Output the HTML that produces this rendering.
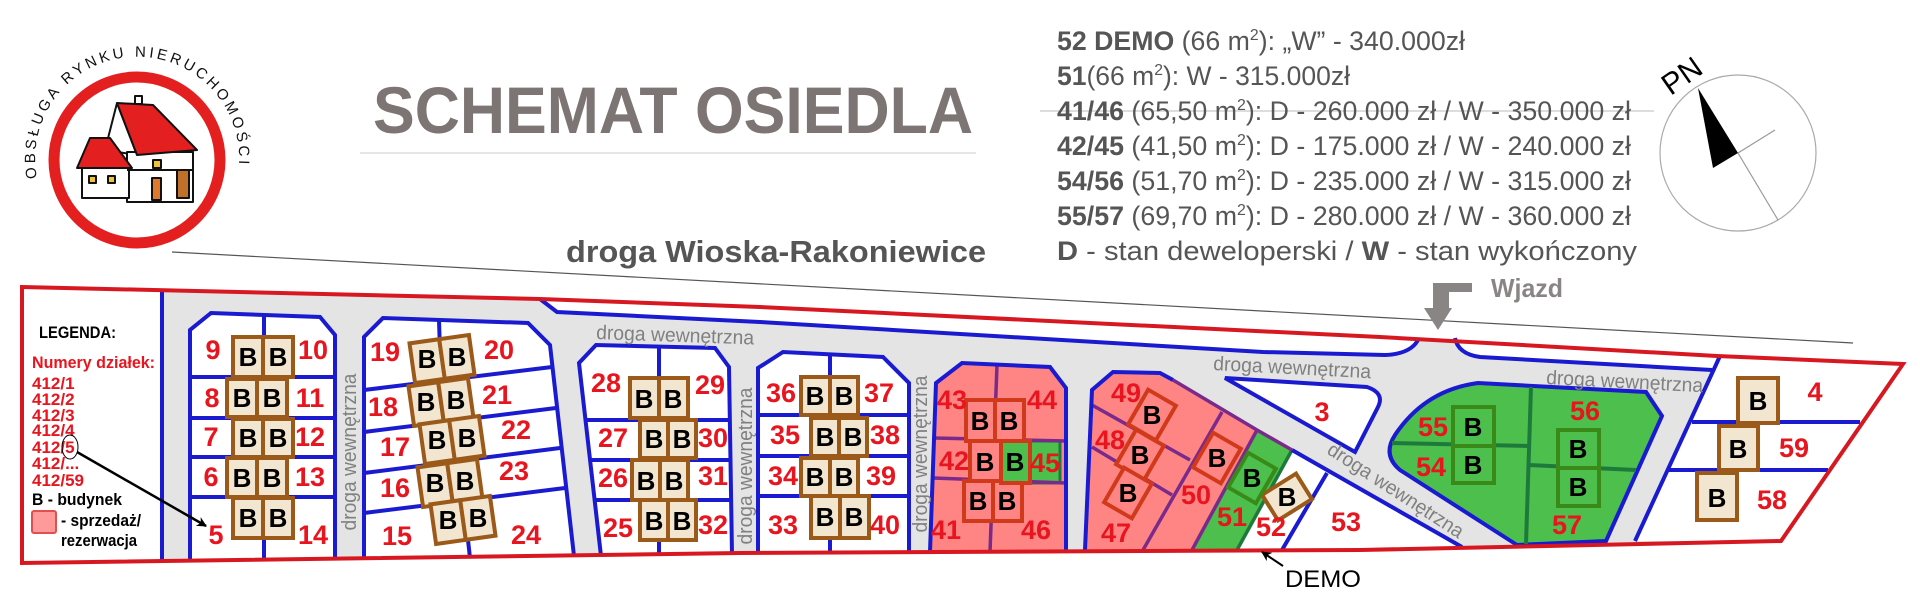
<!DOCTYPE html>
<html><head><meta charset="utf-8"><style>
html,body{margin:0;padding:0;background:#fff;}
svg{display:block;}
.lbl{font-family:"Liberation Sans",sans-serif;font-weight:bold;font-size:27px;fill:#e8141e;text-anchor:middle;}
.b{font-family:"Liberation Sans",sans-serif;font-weight:bold;font-size:26px;fill:#000;text-anchor:middle;}
.road{font-family:"Liberation Sans",sans-serif;font-size:20px;fill:#808080;}
.info{font-family:"Liberation Sans",sans-serif;font-size:27px;fill:#555;}
.leg{font-family:"Liberation Sans",sans-serif;font-weight:bold;font-size:17px;}
</style></head><body>
<svg width="1920" height="596" viewBox="0 0 1920 596" xmlns="http://www.w3.org/2000/svg">
<defs>
<path id="arc" d="M 37,178 A 102 102 0 1 1 238,174"/>
<marker id="ah" markerWidth="10" markerHeight="10" refX="9" refY="5" orient="auto" markerUnits="userSpaceOnUse"><path d="M0,0 L10,5 L0,10 L3,5 z" fill="#000"/></marker>
</defs>

<!-- LOGO -->
<circle cx="137" cy="160" r="83" fill="#fff" stroke="#e3201f" stroke-width="11"/>
<text font-family="Liberation Sans,sans-serif" font-size="15" fill="#111"><textPath href="#arc" textLength="345" lengthAdjust="spacing">OBSŁUGA RYNKU NIERUCHOMOŚCI</textPath></text>
<g stroke="#111" stroke-width="2" stroke-linejoin="round">
<rect x="135" y="96" width="7" height="8" fill="#fff"/>
<polygon points="105,150 117,103 137,155" fill="#fff"/>
<rect x="127" y="152" width="66" height="50" fill="#fff"/>
<polygon points="117,103 153,105 197,150 137,155" fill="#e3201f"/>
<rect x="82" y="165" width="47" height="33" fill="#fff"/>
<polygon points="90,138 110,138 132,168 77,168" fill="#e3201f"/>
<rect x="89" y="176" width="7" height="7" fill="#f2c23a"/>
<rect x="108" y="176" width="7" height="7" fill="#f2c23a"/>
<rect x="153" y="160" width="8" height="8" fill="#f2c23a"/>
<rect x="152" y="178" width="9" height="22" fill="#e07a2a"/>
<rect x="177" y="170" width="12" height="28" fill="#c0702a"/>
<line x1="127" y1="170" x2="193" y2="170"/>
</g>

<!-- TITLE -->
<text x="373" y="133" font-family="Liberation Sans,sans-serif" font-weight="bold" font-size="66" fill="#7d7474" textLength="600" lengthAdjust="spacingAndGlyphs">SCHEMAT OSIEDLA</text>
<line x1="360" y1="153" x2="976" y2="153" stroke="#ddd" stroke-width="1.5"/>
<text x="566" y="262" font-family="Liberation Sans,sans-serif" font-weight="bold" font-size="31" fill="#555" textLength="420" lengthAdjust="spacingAndGlyphs">droga Wioska-Rakoniewice</text>
<line x1="172" y1="252" x2="1853" y2="343" stroke="#555" stroke-width="1.2"/>

<!-- INFO -->
<line x1="1040" y1="111" x2="1654" y2="111" stroke="#bbb" stroke-width="1"/>
<text class="info" x="1057" y="50" textLength="408" lengthAdjust="spacingAndGlyphs"><tspan font-weight="bold">52 DEMO</tspan> (66 m<tspan font-size="16" dy="-10">2</tspan><tspan dy="10">):</tspan> „W” - 340.000zł</text>
<text class="info" x="1057" y="85" textLength="293" lengthAdjust="spacingAndGlyphs"><tspan font-weight="bold">51</tspan>(66 m<tspan font-size="16" dy="-10">2</tspan><tspan dy="10">): W - 315.000zł</tspan></text>
<text class="info" x="1057" y="120" textLength="574" lengthAdjust="spacingAndGlyphs"><tspan font-weight="bold">41/46</tspan> (65,50 m<tspan font-size="16" dy="-10">2</tspan><tspan dy="10">):  D - 260.000 zł / W - 350.000 zł</tspan></text>
<text class="info" x="1057" y="155" textLength="574" lengthAdjust="spacingAndGlyphs"><tspan font-weight="bold">42/45</tspan> (41,50 m<tspan font-size="16" dy="-10">2</tspan><tspan dy="10">):  D - 175.000 zł / W - 240.000 zł</tspan></text>
<text class="info" x="1057" y="190" textLength="574" lengthAdjust="spacingAndGlyphs"><tspan font-weight="bold">54/56</tspan> (51,70 m<tspan font-size="16" dy="-10">2</tspan><tspan dy="10">):  D - 235.000 zł / W - 315.000 zł</tspan></text>
<text class="info" x="1057" y="225" textLength="574" lengthAdjust="spacingAndGlyphs"><tspan font-weight="bold">55/57</tspan> (69,70 m<tspan font-size="16" dy="-10">2</tspan><tspan dy="10">):  D - 280.000 zł / W - 360.000 zł</tspan></text>
<text class="info" x="1057" y="260" textLength="580" lengthAdjust="spacingAndGlyphs"><tspan font-weight="bold">D</tspan> - stan deweloperski   /   <tspan font-weight="bold">W</tspan> - stan wykończony</text>

<!-- COMPASS -->
<circle cx="1738" cy="153" r="78" fill="none" stroke="#aaa" stroke-width="1.2"/>
<line x1="1738" y1="153" x2="1775" y2="130" stroke="#999" stroke-width="1.2"/>
<line x1="1738" y1="153" x2="1778" y2="220" stroke="#999" stroke-width="1.2"/>
<polygon points="1698,88 1713,168 1738,153" fill="#000"/>
<text x="1682" y="86" font-family="Liberation Sans,sans-serif" font-size="30" fill="#000" text-anchor="middle" transform="rotate(-35 1682 76)">PN</text>

<!-- WJAZD -->
<text x="1491" y="297" font-family="Liberation Sans,sans-serif" font-weight="bold" font-size="26" fill="#8a8585" textLength="72" lengthAdjust="spacingAndGlyphs">Wjazd</text>
<polygon points="1433,283 1472,283 1472,292 1449,292 1449,308 1452,308 1438,330 1424,308 1433,308" fill="#8a8585"/>

<!-- MAP base -->
<polygon points="22,287 540,299 760,307 1380,337 1717,356 1903,364 1781,541 1360,550 740,553 22,563" fill="#e4e4e4"/>
<rect x="22" y="287" width="140" height="276" fill="#fff"/>
<path d="M540,299 L760,307 L1380,337 L1419,338 Q1410,355 1390,355 L1263,352 L760,322 L557,312 Z" fill="#fff"/>
<path d="M1455,338 L1717,356 L1712,370 L1480,357 Q1458,352 1455,338 Z" fill="#fff"/>
<polygon points="1720,356 1903,364 1781,541 1635,541" fill="#fff"/>

<!-- Block A -->
<g stroke="#1a1ad0" stroke-width="4" fill="none">
<path d="M190,560 L190,330 L211,313 L320,317 L335,335 L335,560" fill="#fff"/>
<line x1="264" y1="315" x2="264" y2="560"/>
<line x1="190" y1="377" x2="335" y2="377"/>
<line x1="190" y1="418" x2="335" y2="418"/>
<line x1="190" y1="457" x2="335" y2="457"/>
<line x1="190" y1="497" x2="335" y2="497"/>
<line x1="162" y1="289" x2="162" y2="560"/>
</g>
<!-- Block B -->
<g stroke="#1a1ad0" stroke-width="4" fill="none">
<path d="M364,557 L364,337 L383,318 L528,323 L550,345 L574,556" fill="#fff"/>
<line x1="439" y1="320" x2="441" y2="383"/>
<line x1="465" y1="513" x2="470" y2="558"/>
<line x1="364" y1="390" x2="552" y2="367"/>
<line x1="364" y1="432" x2="556" y2="408"/>
<line x1="364" y1="473" x2="560" y2="448"/>
<line x1="364" y1="513" x2="565" y2="488"/>
</g>
<!-- Block C -->
<g stroke="#1a1ad0" stroke-width="4" fill="none">
<path d="M601,556 L579,363 L596,345 L715,348 L729,367 L732,555" fill="#fff"/>
<line x1="659" y1="347" x2="659" y2="555"/>
<line x1="586" y1="420" x2="730" y2="420"/>
<line x1="590" y1="460" x2="731" y2="460"/>
<line x1="595" y1="500" x2="731" y2="500"/>
</g>
<!-- Block D -->
<g stroke="#1a1ad0" stroke-width="4" fill="none">
<path d="M758,554 L758,368 L783,352 L883,357 L909,383 L909,553" fill="#fff"/>
<line x1="830" y1="354" x2="830" y2="553"/>
<line x1="758" y1="415" x2="909" y2="415"/>
<line x1="758" y1="456" x2="909" y2="456"/>
<line x1="758" y1="496" x2="909" y2="496"/>
</g>
<!-- Pink block 41-46 -->
<path d="M930,552 L936,383 L962,363 L1050,367 L1066,388 L1066,552 Z" fill="#ff8585"/>
<rect x="1030" y="441" width="30" height="42" fill="#4cbf4c" stroke="#1e7a3c" stroke-width="3"/>
<g stroke="#7a2a8a" stroke-width="3.5" fill="none">
<line x1="997" y1="365" x2="990" y2="552"/>
<line x1="934" y1="438" x2="1066" y2="441"/>
<line x1="933" y1="478" x2="1066" y2="483"/>
</g>
<path d="M930,552 L936,383 L962,363 L1050,367 L1066,388 L1066,552" fill="none" stroke="#1a1ad0" stroke-width="4"/>
<!-- Block 47-53 -->
<path d="M1085,550 L1092,390 L1113,372 L1160,373 L1173,380 L1257,430 L1192,550 Z" fill="#ff8585"/>
<path d="M1257,430 L1292,450 L1237,550 L1192,550 Z" fill="#4cbf4c"/>
<path d="M1292,450 L1462,547 L1237,550 Z" fill="#fff"/>
<g stroke="#7a2a8a" stroke-width="3.5" fill="none">
<line x1="1222" y1="412" x2="1143" y2="550"/>
<line x1="1092" y1="405" x2="1190" y2="460"/>
<line x1="1092" y1="447" x2="1172" y2="495"/>
<line x1="1257" y1="430" x2="1192" y2="550"/>
</g>
<g stroke="#1e7a3c" stroke-width="3.5" fill="none">
<line x1="1292" y1="450" x2="1237" y2="550"/>
</g>
<g stroke="#1a1ad0" stroke-width="4" fill="none">
<path d="M1085,550 L1092,390 L1113,372 L1160,373 L1173,380"/>
<line x1="1292" y1="450" x2="1462" y2="547"/>
<line x1="1327" y1="473" x2="1282" y2="550"/>
<path d="M1225,378 L1367,387 Q1385,393 1378,407 L1355,452 Z" fill="#fff"/>
</g>
<path d="M1173,380 L1257,430 L1292,450" stroke="#7a2a8a" stroke-width="3.5" fill="none"/>
<!-- Green block 54-57 -->
<path d="M1517,545 L1400,470 Q1382,455 1395,435 Q1425,390 1478,383 L1646,392 L1662,416 L1606,541 Z" fill="#4cbf4c" stroke="#1a1ad0" stroke-width="4"/>
<g stroke="#1e7a3c" stroke-width="4" fill="none">
<line x1="1531" y1="387" x2="1526" y2="544"/>
<line x1="1392" y1="443" x2="1528" y2="446"/>
<line x1="1529" y1="465" x2="1636" y2="470"/>
</g>
<g stroke="#1a1ad0" stroke-width="4" fill="none">
<path d="M540,299 L557,312 L760,322 L1263,352 L1385,355 Q1412,354 1419,338"/>
<path d="M1455,338 Q1458,354 1480,357 L1712,370"/>
<line x1="1720" y1="356" x2="1635" y2="541"/>
<line x1="1692" y1="422" x2="1860" y2="422"/>
<line x1="1669" y1="470" x2="1828" y2="470"/>
</g>
<polygon points="22,287 540,299 760,307 1380,337 1717,356 1903,364 1781,541 1360,550 740,553 22,563" fill="none" stroke="#d81820" stroke-width="4"/>

<!-- Buildings (beige) -->
<g fill="#f3e6d0" stroke="#9c5a1a" stroke-width="4">
<rect x="233" y="337" width="30" height="40"/><rect x="263" y="337" width="30" height="40"/>
<rect x="227" y="379" width="30" height="38"/><rect x="257" y="379" width="30" height="38"/>
<rect x="233" y="419" width="30" height="38"/><rect x="263" y="419" width="30" height="38"/>
<rect x="227" y="458" width="30" height="39"/><rect x="257" y="458" width="30" height="39"/>
<rect x="233" y="498" width="30" height="40"/><rect x="263" y="498" width="30" height="40"/>
<rect x="630" y="378" width="29" height="40"/><rect x="659" y="378" width="29" height="40"/>
<rect x="640" y="420" width="28" height="38"/><rect x="668" y="420" width="28" height="38"/>
<rect x="632" y="460" width="28" height="40"/><rect x="660" y="460" width="28" height="40"/>
<rect x="640" y="500" width="28" height="40"/><rect x="668" y="500" width="28" height="40"/>
<rect x="801" y="377" width="29" height="38"/><rect x="830" y="377" width="28" height="38"/>
<rect x="811" y="418" width="28" height="38"/><rect x="839" y="418" width="28" height="38"/>
<rect x="801" y="458" width="29" height="38"/><rect x="830" y="458" width="28" height="38"/>
<rect x="811" y="496" width="29" height="42"/><rect x="840" y="496" width="29" height="42"/>
<rect x="1738" y="378" width="40" height="45"/>
<rect x="1719" y="426" width="39" height="44"/>
<rect x="1697" y="473" width="40" height="47"/>
<rect x="-15" y="-20" width="30" height="40" transform="translate(1287,497) rotate(58)"/>
</g>
<g fill="#f3e6d0" stroke="#9c5a1a" stroke-width="4">
<g transform="translate(442,359) rotate(-8)"><rect x="-30" y="-20" width="30" height="40"/><rect x="0" y="-20" width="30" height="40"/></g>
<g transform="translate(441,402) rotate(-8)"><rect x="-30" y="-20" width="30" height="40"/><rect x="0" y="-20" width="30" height="40"/></g>
<g transform="translate(452,440) rotate(-8)"><rect x="-30" y="-20" width="30" height="40"/><rect x="0" y="-20" width="30" height="40"/></g>
<g transform="translate(450,483) rotate(-8)"><rect x="-30" y="-20" width="30" height="40"/><rect x="0" y="-20" width="30" height="40"/></g>
<g transform="translate(463,520) rotate(-8)"><rect x="-30" y="-20" width="30" height="40"/><rect x="0" y="-20" width="30" height="40"/></g>
</g>
<g fill="#ff8585" stroke="#d03a1a" stroke-width="4">
<rect x="966" y="400" width="29" height="41"/><rect x="995" y="400" width="29" height="41"/>
<rect x="970" y="441" width="31" height="42"/>
<rect x="964" y="481" width="29" height="40"/><rect x="993" y="481" width="29" height="40"/>
<g transform="translate(1152,415) rotate(30)"><rect x="-16" y="-20" width="32" height="40"/></g>
<g transform="translate(1140,455) rotate(30)"><rect x="-16" y="-20" width="32" height="40"/></g>
<g transform="translate(1128,493) rotate(30)"><rect x="-16" y="-20" width="32" height="40"/></g>
<g transform="translate(1217,458) rotate(30)"><rect x="-16" y="-20" width="32" height="40"/></g>
</g>
<g fill="#4cbf4c" stroke="#3a8a1a" stroke-width="4">
<rect x="1001" y="441" width="29" height="42" stroke="#d03a1a"/>
<g transform="translate(1252,478) rotate(30)"><rect x="-16" y="-20" width="32" height="40"/></g>
<rect x="1453" y="407" width="41" height="39"/><rect x="1453" y="446" width="41" height="37"/>
<rect x="1558" y="430" width="41" height="38"/><rect x="1558" y="468" width="41" height="38"/>
</g>

<g class="b">
<text class="b" x="248" y="366">B</text><text class="b" x="278" y="366">B</text>
<text class="b" x="242" y="407">B</text><text class="b" x="272" y="407">B</text>
<text class="b" x="248" y="447">B</text><text class="b" x="278" y="447">B</text>
<text class="b" x="242" y="487">B</text><text class="b" x="272" y="487">B</text>
<text class="b" x="248" y="527">B</text><text class="b" x="278" y="527">B</text>
<text class="b" x="427" y="368">B</text><text class="b" x="457" y="366">B</text>
<text class="b" x="426" y="411">B</text><text class="b" x="456" y="409">B</text>
<text class="b" x="437" y="449">B</text><text class="b" x="467" y="447">B</text>
<text class="b" x="435" y="492">B</text><text class="b" x="465" y="490">B</text>
<text class="b" x="448" y="529">B</text><text class="b" x="478" y="527">B</text>
<text class="b" x="644" y="408">B</text><text class="b" x="673" y="408">B</text>
<text class="b" x="654" y="448">B</text><text class="b" x="682" y="448">B</text>
<text class="b" x="646" y="490">B</text><text class="b" x="674" y="490">B</text>
<text class="b" x="654" y="530">B</text><text class="b" x="682" y="530">B</text>
<text class="b" x="815" y="405">B</text><text class="b" x="844" y="405">B</text>
<text class="b" x="825" y="446">B</text><text class="b" x="853" y="446">B</text>
<text class="b" x="815" y="486">B</text><text class="b" x="844" y="486">B</text>
<text class="b" x="825" y="526">B</text><text class="b" x="854" y="526">B</text>
<text class="b" x="980" y="430">B</text><text class="b" x="1009" y="430">B</text>
<text class="b" x="985" y="471">B</text><text class="b" x="1015" y="471">B</text>
<text class="b" x="978" y="510">B</text><text class="b" x="1007" y="510">B</text>
<text class="b" x="1152" y="424">B</text><text class="b" x="1140" y="464">B</text><text class="b" x="1128" y="502">B</text>
<text class="b" x="1217" y="467">B</text><text class="b" x="1252" y="487">B</text><text class="b" x="1287" y="506">B</text>
<text class="b" x="1473" y="436">B</text><text class="b" x="1473" y="474">B</text>
<text class="b" x="1578" y="458">B</text><text class="b" x="1578" y="496">B</text>
<text class="b" x="1758" y="410">B</text><text class="b" x="1738" y="458">B</text><text class="b" x="1717" y="507">B</text>
</g>

<g class="lbl">
<text class="lbl" x="213" y="359">9</text><text class="lbl" x="313" y="359">10</text>
<text class="lbl" x="212" y="407">8</text><text class="lbl" x="310" y="407">11</text>
<text class="lbl" x="211" y="446">7</text><text class="lbl" x="310" y="446">12</text>
<text class="lbl" x="211" y="486">6</text><text class="lbl" x="310" y="486">13</text>
<text class="lbl" x="216" y="544">5</text><text class="lbl" x="313" y="544">14</text>
<text class="lbl" x="385" y="361">19</text><text class="lbl" x="499" y="359">20</text>
<text class="lbl" x="383" y="416">18</text><text class="lbl" x="497" y="404">21</text>
<text class="lbl" x="395" y="456">17</text><text class="lbl" x="516" y="439">22</text>
<text class="lbl" x="395" y="497">16</text><text class="lbl" x="514" y="480">23</text>
<text class="lbl" x="397" y="545">15</text><text class="lbl" x="526" y="544">24</text>
<text class="lbl" x="606" y="392">28</text><text class="lbl" x="710" y="394">29</text>
<text class="lbl" x="613" y="447">27</text><text class="lbl" x="713" y="447">30</text>
<text class="lbl" x="613" y="487">26</text><text class="lbl" x="713" y="485">31</text>
<text class="lbl" x="618" y="537">25</text><text class="lbl" x="713" y="534">32</text>
<text class="lbl" x="781" y="402">36</text><text class="lbl" x="879" y="402">37</text>
<text class="lbl" x="785" y="444">35</text><text class="lbl" x="885" y="444">38</text>
<text class="lbl" x="783" y="485">34</text><text class="lbl" x="881" y="485">39</text>
<text class="lbl" x="783" y="534">33</text><text class="lbl" x="885" y="534">40</text>
<text class="lbl" x="952" y="409">43</text><text class="lbl" x="1042" y="409">44</text>
<text class="lbl" x="954" y="470">42</text><text class="lbl" x="1045" y="472">45</text>
<text class="lbl" x="946" y="539">41</text><text class="lbl" x="1036" y="539">46</text>
<text class="lbl" x="1126" y="402">49</text><text class="lbl" x="1110" y="449">48</text>
<text class="lbl" x="1116" y="542">47</text><text class="lbl" x="1196" y="504">50</text>
<text class="lbl" x="1232" y="526">51</text><text class="lbl" x="1271" y="536">52</text>
<text class="lbl" x="1346" y="531">53</text><text class="lbl" x="1322" y="421">3</text>
<text class="lbl" x="1433" y="436">55</text><text class="lbl" x="1431" y="476">54</text>
<text class="lbl" x="1585" y="420">56</text><text class="lbl" x="1567" y="534">57</text>
<text class="lbl" x="1815" y="401">4</text><text class="lbl" x="1794" y="457">59</text>
<text class="lbl" x="1772" y="509">58</text>
</g>

<text class="road" x="596" y="339" textLength="158" lengthAdjust="spacingAndGlyphs" transform="rotate(2 596 339)">droga wewnętrzna</text>
<text class="road" x="1213" y="370" textLength="158" lengthAdjust="spacingAndGlyphs" transform="rotate(3 1213 370)">droga wewnętrzna</text>
<text class="road" x="1546" y="384" textLength="157" lengthAdjust="spacingAndGlyphs" transform="rotate(3 1546 384)">droga wewnętrzna</text>
<text class="road" x="1396" y="497" text-anchor="middle" textLength="158" lengthAdjust="spacingAndGlyphs" transform="rotate(33 1396 490)">droga wewnętrzna</text>
<text class="road" x="0" y="0" text-anchor="middle" textLength="157" lengthAdjust="spacingAndGlyphs" transform="translate(356,452) rotate(-90)">droga wewnętrzna</text>
<text class="road" x="0" y="0" text-anchor="middle" textLength="157" lengthAdjust="spacingAndGlyphs" transform="translate(752,466) rotate(-90)">droga wewnętrzna</text>
<text class="road" x="0" y="0" text-anchor="middle" textLength="157" lengthAdjust="spacingAndGlyphs" transform="translate(927,454) rotate(-90)">droga wewnętrzna</text>

<text class="leg" x="39" y="338" fill="#000" textLength="77" lengthAdjust="spacingAndGlyphs">LEGENDA:</text>
<text class="leg" x="32" y="368" fill="#e8141e" textLength="123" lengthAdjust="spacingAndGlyphs">Numery działek:</text>
<text class="leg" x="32" y="389" fill="#e8141e">412/1</text>
<text class="leg" x="32" y="405" fill="#e8141e">412/2</text>
<text class="leg" x="32" y="421" fill="#e8141e">412/3</text>
<text class="leg" x="32" y="436" fill="#e8141e">412/4</text>
<text class="leg" x="32" y="453" fill="#e8141e">412/5</text>
<text class="leg" x="32" y="469" fill="#e8141e">412/...</text>
<text class="leg" x="32" y="486" fill="#e8141e">412/59</text>
<text class="leg" x="32" y="505" fill="#000" textLength="90" lengthAdjust="spacingAndGlyphs">B - budynek</text>
<rect x="32" y="511" width="24" height="22" rx="2" fill="#ff9a9a" stroke="#e05050" stroke-width="2"/>
<text class="leg" x="61" y="526" fill="#000" textLength="80" lengthAdjust="spacingAndGlyphs">- sprzedaż/</text>
<text class="leg" x="61" y="546" fill="#000" textLength="76" lengthAdjust="spacingAndGlyphs">rezerwacja</text>
<ellipse cx="70" cy="447" rx="8" ry="12" fill="none" stroke="#000" stroke-width="1"/>
<line x1="77" y1="452" x2="206" y2="526" stroke="#000" stroke-width="2.5" marker-end="url(#ah)"/>

<text x="1285" y="587" font-family="Liberation Sans,sans-serif" font-size="24" fill="#000" textLength="76" lengthAdjust="spacingAndGlyphs">DEMO</text>
<line x1="1283" y1="566" x2="1262" y2="552" stroke="#000" stroke-width="2" marker-end="url(#ah)"/>
</svg>
</body></html>
